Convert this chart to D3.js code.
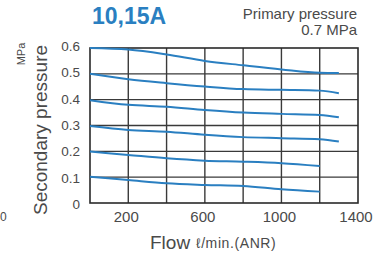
<!DOCTYPE html>
<html><head><meta charset="utf-8">
<script src="https://cdn.jsdelivr.net/npm/d3@7/dist/d3.min.js"></script>
<style>
html,body{margin:0;padding:0;background:#fff;}
svg{display:block;font-family:"Liberation Sans",Arial,sans-serif;}
</style></head>
<body><svg id="c" width="373" height="256"></svg>
<script>
const flow = [0, 200, 400, 600, 800, 1000, 1200, 1300];
const flowShort = [0, 200, 400, 600, 800, 1000, 1200];
const p06 = [0.600, 0.594, 0.575, 0.550, 0.533, 0.517, 0.504, 0.503];
const p05 = [0.500, 0.479, 0.464, 0.451, 0.441, 0.438, 0.435, 0.425];
const p04 = [0.398, 0.380, 0.373, 0.360, 0.350, 0.345, 0.341, 0.332];
const p03 = [0.298, 0.283, 0.276, 0.264, 0.255, 0.251, 0.247, 0.238];
const p02 = [0.199, 0.186, 0.173, 0.164, 0.160, 0.154, 0.143];
const p01 = [0.102, 0.089, 0.076, 0.070, 0.066, 0.053, 0.044];
const xTickLabels = [200, 600, 1000, 1400];
const xGrid = [200, 400, 600, 800, 1000, 1200];
const yTicks = [0, 0.1, 0.2, 0.3, 0.4, 0.5, 0.6];

const svg = d3.select("#c");
const L = 90, R = 358, T = 48, B = 203;
const x = d3.scaleLinear().domain([0, 1400]).range([L, R]);
const y = d3.scaleLinear().domain([0, 0.6]).range([B, T]);
const gridCol = "#3a3a3a", textCol = "#4a4a4a", blue = "#2a7fc1";

// grid
svg.append("g").selectAll("line").data(xGrid).join("line")
  .attr("x1", d => x(d)).attr("x2", d => x(d)).attr("y1", T).attr("y2", B)
  .attr("stroke", gridCol).attr("stroke-width", 1.4);
svg.append("g").selectAll("line").data(yTicks.filter(v => v > 0 && v < 0.6)).join("line")
  .attr("x1", L).attr("x2", R).attr("y1", d => y(d)).attr("y2", d => y(d))
  .attr("stroke", gridCol).attr("stroke-width", 1.4);
svg.append("rect").attr("x", L).attr("y", T).attr("width", R - L).attr("height", B - T)
  .attr("fill", "none").attr("stroke", "#2a2a2a").attr("stroke-width", 1.6);

// curves
const series = [
  [flow, p06], [flow, p05], [flow, p04], [flow, p03], [flowShort, p02], [flowShort, p01]
];
const line = d3.line().x(d => x(d[0])).y(d => y(d[1])).curve(d3.curveMonotoneX);
svg.append("g").selectAll("path").data(series).join("path")
  .attr("d", s => line(s[0].map((f, i) => [f, s[1][i]])))
  .attr("fill", "none").attr("stroke", blue).attr("stroke-width", 2);

// y tick labels
svg.append("g").selectAll("text").data(yTicks).join("text")
  .attr("x", 80).attr("y", d => y(d) + 6 - d * 5)
  .attr("text-anchor", "end").attr("font-size", 13.5).attr("fill", textCol)
  .text(d => d === 0 ? "0" : d3.format(".1f")(d));

// x tick labels
svg.append("g").selectAll("text").data(xTickLabels).join("text")
  .attr("x", d => x(d) - 2).attr("y", 222)
  .attr("text-anchor", "middle").attr("font-size", 15).attr("fill", textCol)
  .text(d => d);

// titles
svg.append("text").attr("x", 92).attr("y", 24).attr("font-size", 23).attr("font-weight", "bold")
  .attr("fill", blue).text("10,15A");
svg.append("text").attr("x", 357).attr("y", 19).attr("text-anchor", "end").attr("font-size", 15)
  .attr("fill", textCol).text("Primary pressure");
svg.append("text").attr("x", 357).attr("y", 35).attr("text-anchor", "end").attr("font-size", 15)
  .attr("fill", textCol).text("0.7 MPa");

// axis titles
svg.append("text").attr("transform", "translate(47,130) rotate(-90)")
  .attr("text-anchor", "middle").attr("font-size", 19).attr("fill", textCol).text("Secondary pressure");
svg.append("text").attr("transform", "translate(25,54) rotate(-90)")
  .attr("text-anchor", "middle").attr("font-size", 11).attr("fill", textCol).text("MPa");
svg.append("text").attr("x", 150).attr("y", 249).attr("font-size", 19).attr("fill", textCol).text("Flow");
svg.append("text").attr("x", 196).attr("y", 248).attr("font-size", 14).attr("letter-spacing", 0.6)
  .attr("fill", textCol).text("ℓ/min.(ANR)");

// fragment from neighbouring chart at left edge
svg.append("text").attr("x", 0).attr("y", 221).attr("text-anchor", "start").attr("font-size", 12)
  .attr("fill", textCol).text("0");
</script></body></html>
